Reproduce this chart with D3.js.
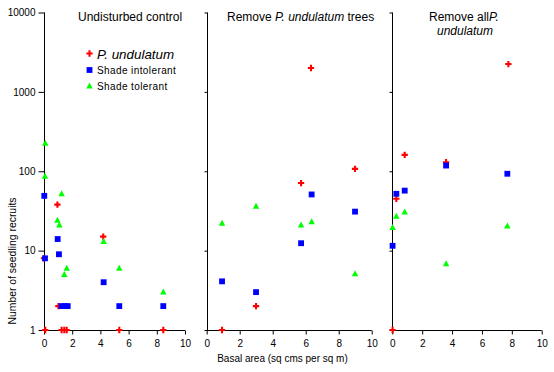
<!DOCTYPE html>
<html><head><meta charset="utf-8">
<script src="https://cdn.jsdelivr.net/npm/d3@7"></script>
<style>
body{margin:0;background:#fff;}
svg{display:block;font-family:"Liberation Sans",Arial,sans-serif;}
</style></head>
<body><svg id="c" width="554" height="372"></svg>
<script>
// ---- data ----
const panelTitles = ["Undisturbed control", "Remove P. undulatum trees", "Remove all P. undulatum"];
const seriesNames = ["P. undulatum", "Shade intolerant", "Shade tolerant"];
const xTicks = [0, 2, 4, 6, 8, 10];
const yTicks = [1, 10, 100, 1000, 10000];

// Panel 1: Undisturbed control
const undX1 = [0.09, 0.0, 0.95, 1.02, 1.25, 1.44, 1.61, 4.2, 5.34, 8.46];
const undY1 = [1, 8, 38, 2, 1, 1, 1, 15, 1, 1];
const intX1 = [0.02, 0.07, 0.97, 1.06, 1.25, 1.49, 1.68, 4.23, 5.34, 8.46];
const intY1 = [49, 8, 14, 9, 2, 2, 2, 4, 2, 2];
const tolX1 = [0.09, 0.07, 1.25, 0.95, 1.09, 1.61, 1.44, 4.23, 5.34, 8.46];
const tolY1 = [225, 86, 52, 24, 21, 6, 5, 13, 6, 3];

// Panel 2: Remove P. undulatum trees
const undX2 = [0.93, 2.99, 5.72, 6.32, 8.99];
const undY2 = [1, 2, 71, 2000, 107];
const intX2 = [0.93, 2.99, 5.72, 6.36, 8.99];
const intY2 = [4.1, 3, 12.4, 51, 31];
const tolX2 = [0.93, 2.99, 5.72, 6.36, 8.99];
const tolY2 = [22, 36, 21, 23, 5.1];

// Panel 3: Remove all P. undulatum
const undX3 = [0.02, 0.27, 0.83, 3.6, 7.77];
const undY3 = [1, 45, 161, 130, 2240];
const intX3 = [0.02, 0.27, 0.83, 3.6, 7.7];
const intY3 = [11.5, 52, 57, 118, 93];
const tolX3 = [0.02, 0.27, 0.83, 3.6, 7.7];
const tolY3 = [19.5, 27, 30.5, 6.8, 20.3];

const colors = ["#ff0000", "#0000ff", "#00ff00"];

// ---- layout ----
const svg = d3.select("#c");
const yTop = 12.5, yBot = 330;
const y = d3.scaleLog().domain([1, 10000]).range([yBot, yTop]);

const panels = [
  {x0: 44, x1: 185, tickLen: 6, labels: true,
   data: [[undX1, undY1], [intX1, intY1], [tolX1, tolY1]]},
  {x0: 206.7, x1: 371.7, tickLen: 3, labels: false,
   data: [[undX2, undY2], [intX2, intY2], [tolX2, tolY2]]},
  {x0: 392.3, x1: 541.7, tickLen: 3, labels: false,
   data: [[undX3, undY3], [intX3, intY3], [tolX3, tolY3]]}
];

const crossPath = d3.symbol().type(d3.symbolCross).size(22)();
const squarePath = d3.symbol().type(d3.symbolSquare).size(34)();
const triPath = "M0,-3.6L3.2,2.4L-3.2,2.4Z";
const shapes = [crossPath, squarePath, triPath];

panels.forEach((p, pi) => {
  const x = d3.scaleLinear().domain([0, 10]).range([p.x0, p.x1]);
  const g = svg.append("g");
  const yAx = d3.axisLeft(y).tickValues(yTicks).tickSize(p.tickLen).tickPadding(3)
    .tickFormat(p.labels ? d3.format("d") : () => "");
  const gy = g.append("g").attr("transform", `translate(${Math.round(p.x0)+0.5},0)`).call(yAx);
  const xAx = d3.axisBottom(x).tickValues(xTicks).tickSize(4).tickPadding(5).tickFormat(d3.format("d"));
  const gx = g.append("g").attr("transform", `translate(0,${yBot+0.5})`).call(xAx);
  [gx, gy].forEach(a => {
    a.select(".domain").attr("stroke", "#000");
    a.selectAll(".tick line").attr("stroke", "#000");
    a.selectAll(".tick text").attr("fill", "#000").attr("font-size", 10)
      .attr("font-family", "'Liberation Sans',Arial,sans-serif");
  });
  gy.select(".domain").attr("d", `M0,${yTop}V${yBot}`);
  gx.select(".domain").attr("d", `M${p.x0},0H${p.x1}`);

  p.data.forEach((s, si) => {
    const pts = s[0].map((v, i) => [v, s[1][i]]);
    g.append("g").selectAll("path").data(pts).join("path")
      .attr("d", shapes[si])
      .attr("fill", colors[si])
      .attr("transform", d => `translate(${x(d[0])},${y(d[1])})`);
  });
});

// titles
svg.append("text").attr("x", 78).attr("y", 21).attr("font-size", 12).text(panelTitles[0]);
const t2 = svg.append("text").attr("x", 227).attr("y", 21).attr("font-size", 12);
t2.append("tspan").text("Remove ");
t2.append("tspan").attr("font-style", "italic").text("P. undulatum");
t2.append("tspan").text(" trees");
const t3 = svg.append("text").attr("x", 429).attr("y", 21).attr("font-size", 12);
t3.append("tspan").text("Remove all");
t3.append("tspan").attr("font-style", "italic").text("P.");
svg.append("text").attr("x", 437).attr("y", 35).attr("font-size", 12).attr("font-style", "italic").text("undulatum");

// legend
const legY = [53.5, 70, 86];
seriesNames.forEach((n, i) => {
  svg.append("path").attr("d", shapes[i]).attr("fill", colors[i])
    .attr("transform", `translate(89.5,${legY[i]})`);
  const t = svg.append("text").attr("x", 97).attr("y", legY[i] + (i === 0 ? 5 : 3.8))
    .text(n);
  if (i === 0) t.attr("font-size", 13.4).attr("font-style", "italic");
  else t.attr("font-size", 10).attr("letter-spacing", 0.4);
});

// axis labels
svg.append("text").attr("transform", "translate(15.5,261) rotate(-90)")
  .attr("text-anchor", "middle").attr("font-size", 10.4).text("Number of seedling recruits");
svg.append("text").attr("x", 282.5).attr("y", 361.5).attr("text-anchor", "middle")
  .attr("font-size", 10).text("Basal area (sq cms per sq m)");
</script></body></html>
